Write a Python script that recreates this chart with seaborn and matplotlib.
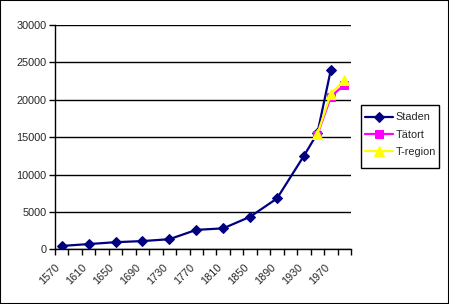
import matplotlib
matplotlib.use("Agg")
import matplotlib.pyplot as plt
from matplotlib.patches import Rectangle
import seaborn as sns
import pandas as pd

# ---- data ----
staden_years = [1570, 1610, 1650, 1690, 1730, 1770, 1810, 1850, 1890, 1930, 1950, 1970]
staden = [450, 700, 950, 1100, 1350, 2600, 2800, 4350, 6800, 12500, 15500, 24000]
tatort_years = [1950, 1970, 1990]
tatort = [15300, 20400, 22000]
tregion_years = [1950, 1970, 1990]
tregion = [15400, 20800, 22600]
category_years = list(range(1570, 2000, 20))
label_years = [1570, 1610, 1650, 1690, 1730, 1770, 1810, 1850, 1890, 1930, 1970]
y_ticks = [0, 5000, 10000, 15000, 20000, 25000, 30000]

sns.set_style("white")
plt.rcParams["font.family"] = ["Liberation Sans", "DejaVu Sans"]

fig = plt.figure(figsize=(4.49, 3.04), dpi=100)
ax = fig.add_axes([55 / 449, (304 - 249.3) / 304, 296 / 449, 224.3 / 304])

df_s = pd.DataFrame({"year": staden_years, "value": staden})
df_t = pd.DataFrame({"year": tatort_years, "value": tatort})
df_r = pd.DataFrame({"year": tregion_years, "value": tregion})

sns.lineplot(data=df_s, x="year", y="value", ax=ax, color="#000080", linewidth=1.6,
             marker="D", markersize=5.5, markeredgecolor="#000080", label="Staden", zorder=3)
sns.lineplot(data=df_t, x="year", y="value", ax=ax, color="#FF00FF", linewidth=1.6,
             marker="s", markersize=5.5, markeredgecolor="#FF00FF", label="Tätort", zorder=4)
sns.lineplot(data=df_r, x="year", y="value", ax=ax, color="#FFFF00", linewidth=1.6,
             marker="^", markersize=6.5, markeredgecolor="#FFFF00", label="T-region", zorder=5)

# category axis: boundaries every 20 years, labels every 40 years
step = 20
boundaries = [y - step / 2 for y in category_years] + [category_years[-1] + step / 2]
ax.set_xlim(boundaries[0], boundaries[-1])
ax.set_xticks(boundaries)
labels = []
for b in boundaries:
    yr = int(b + step / 2)
    labels.append(str(yr) if yr in label_years else "")
ax.set_xticklabels(labels, rotation=45, ha="right", rotation_mode="anchor", fontsize=7.8)

ax.set_ylim(0, 30000)
ax.set_yticks(y_ticks)
ax.set_yticklabels([str(v) for v in y_ticks], fontsize=7.8)
ax.tick_params(axis="both", which="major", direction="out", length=4, width=1,
               color="black", pad=2, bottom=True, left=True)
ax.tick_params(axis="x", pad=5)

ax.yaxis.grid(True, color="black", linewidth=1)
ax.xaxis.grid(False)
ax.set_axisbelow(True)
for side in ["top", "right"]:
    ax.spines[side].set_visible(False)
for side in ["left", "bottom"]:
    ax.spines[side].set_color("black")
    ax.spines[side].set_linewidth(1)
ax.set_xlabel("")
ax.set_ylabel("")

handles, lbls = ax.get_legend_handles_labels()
ax.get_legend().remove()
leg = fig.legend(handles, lbls, loc="upper left", bbox_to_anchor=(365 / 449, 1 - 112.5 / 304),
                 frameon=False, fontsize=7.8,
                 handlelength=2.6, handletextpad=0.2, borderpad=0.0, labelspacing=0.68,
                 borderaxespad=0)

# legend box
fig.patches.append(Rectangle((361 / 449, 1 - 168 / 304), 78 / 449, 63 / 304,
                             transform=fig.transFigure, fill=False,
                             edgecolor="black", linewidth=1, zorder=1))
# figure border
fig.patches.append(Rectangle((0, 0), 1, 1, transform=fig.transFigure, fill=False,
                             edgecolor="black", linewidth=1.5, zorder=10))

fig.savefig("out.png", dpi=100, facecolor="white")
